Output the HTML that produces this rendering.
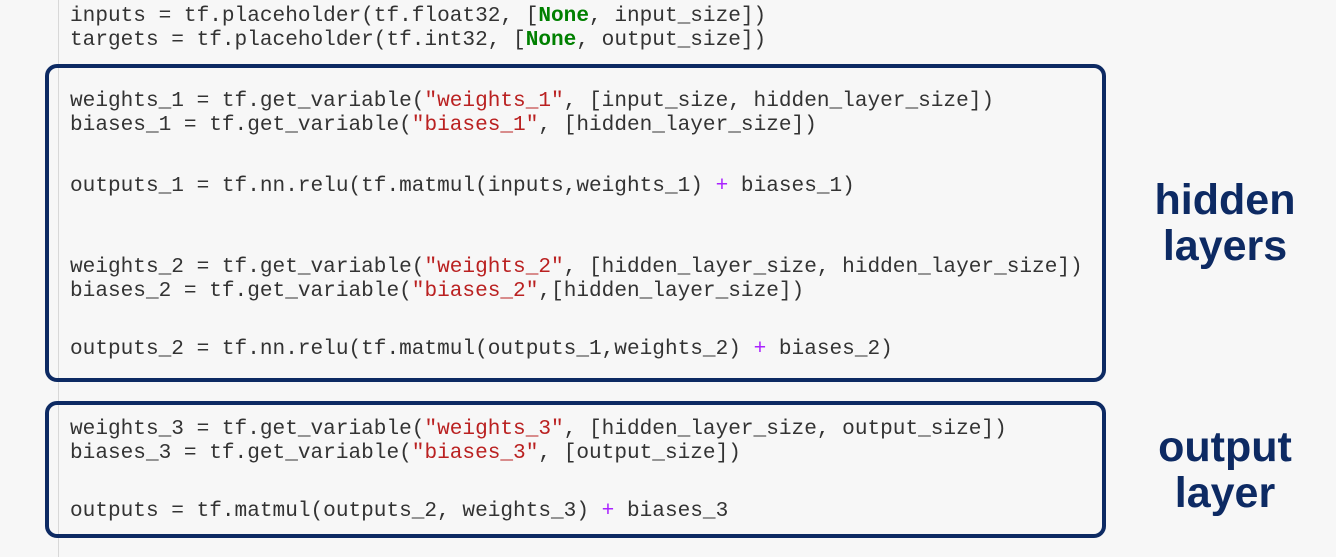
<!DOCTYPE html>
<html><head><style>
html,body{margin:0;padding:0;}
body{width:1336px;height:557px;background:#f7f7f7;position:relative;overflow:hidden;}
.vline{position:absolute;left:58px;top:0;width:1px;height:557px;background:#d8d8d8;}
.box{position:absolute;left:45px;width:1053px;border:4px solid #0d2a63;border-radius:12px;box-sizing:content-box;}
.code{position:absolute;left:70px;font-family:"Liberation Mono",monospace;font-size:21.1px;color:#333;white-space:pre;line-height:24px;}
.s{color:#ba2121;}.k{color:#008000;font-weight:bold;}.o{color:#aa22ff;}
.lab{position:absolute;left:1110px;width:230px;text-align:center;font-family:"Liberation Sans",sans-serif;font-weight:bold;font-size:43px;color:#0d2a63;line-height:46px;}
</style></head><body>
<div class="vline"></div>
<div class="box" style="top:64px;height:310px;"></div>
<div class="box" style="top:401px;height:129px;"></div>
<div class="code" style="top:4px;">inputs = tf.placeholder(tf.float32, [<span class="k">None</span>, input_size])
targets = tf.placeholder(tf.int32, [<span class="k">None</span>, output_size])</div>
<div class="code" style="top:89px;">weights_1 = tf.get_variable(<span class="s">"weights_1"</span>, [input_size, hidden_layer_size])
biases_1 = tf.get_variable(<span class="s">"biases_1"</span>, [hidden_layer_size])</div>
<div class="code" style="top:174px;">outputs_1 = tf.nn.relu(tf.matmul(inputs,weights_1) <span class="o">+</span> biases_1)</div>
<div class="code" style="top:255px;">weights_2 = tf.get_variable(<span class="s">"weights_2"</span>, [hidden_layer_size, hidden_layer_size])
biases_2 = tf.get_variable(<span class="s">"biases_2"</span>,[hidden_layer_size])</div>
<div class="code" style="top:337px;">outputs_2 = tf.nn.relu(tf.matmul(outputs_1,weights_2) <span class="o">+</span> biases_2)</div>
<div class="code" style="top:417px;">weights_3 = tf.get_variable(<span class="s">"weights_3"</span>, [hidden_layer_size, output_size])
biases_3 = tf.get_variable(<span class="s">"biases_3"</span>, [output_size])</div>
<div class="code" style="top:499px;">outputs = tf.matmul(outputs_2, weights_3) <span class="o">+</span> biases_3</div>
<div class="lab" style="top:177px;">hidden<br>layers</div>
<div class="lab" style="top:424px;">output<br>layer</div>
</body></html>
